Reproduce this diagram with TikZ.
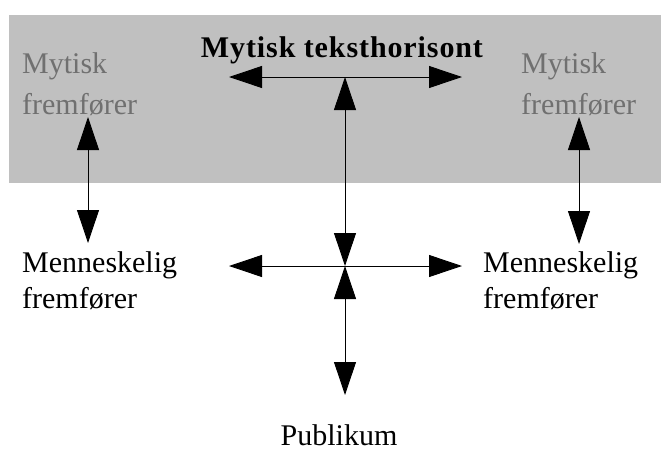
\documentclass[tikz,border=0pt]{standalone}
\usepackage{fontspec}
\setmainfont{Liberation Serif}
\usetikzlibrary{arrows.meta}
\definecolor{band}{RGB}{192,192,192}
\definecolor{mythgray}{RGB}{112,112,112}
\tikzset{
  lbl/.style={inner sep=0pt, anchor=base west, align=left, font=\fontsize{30}{41}\selectfont},
  link/.style={line width=0.9pt, {Triangle[length=33pt,width=22pt]}-{Triangle[length=33pt,width=22pt]}},
}
\begin{document}
\begin{tikzpicture}[x=1pt,y=-1pt]
\useasboundingbox (0,0) rectangle (661,450);
\fill[band] (9,15) rectangle (661,183);
% texts (anchor = baseline of last line)
\node[lbl, text=mythgray] (lmyt) at (22,114) {Mytisk\\fremfører};
\node[lbl, text=mythgray] (rmyt) at (521,114) {Mytisk\\fremfører};
\node[inner sep=0pt, anchor=base, font=\fontsize{30}{36}\selectfont\bfseries\addfontfeature{LetterSpace=3}] (title) at (342,57) {Mytisk teksthorisont};
\node[lbl, font=\fontsize{30}{36}\selectfont] (lmen) at (22,308) {Menneskelig\\fremfører};
\node[lbl, font=\fontsize{30}{36}\selectfont] (rmen) at (483,308) {Menneskelig\\fremfører};
\node[inner sep=0pt, anchor=base, font=\fontsize{30}{36}\selectfont] (pub) at (339,445) {Publikum};
% connector ends
\coordinate (tl) at (229,77);
\coordinate (tr) at (462,77);
\coordinate (tc) at (345,77);
\coordinate (cc) at (345,266);
\coordinate (ml) at (229,266);
\coordinate (mr) at (462,266);
\coordinate (bc) at (345,395);
\coordinate (la) at (88,117);
\coordinate (lb) at (88,243);
\coordinate (ra) at (579,117);
\coordinate (rb) at (579,244);
% connectors
\draw[link] (tl) -- (tr);
\draw[link] (tc) -- (cc);
\draw[link] (ml) -- (mr);
\draw[link] (cc) -- (bc);
\draw[link] (la) -- (lb);
\draw[link] (ra) -- (rb);
\end{tikzpicture}
\end{document}
